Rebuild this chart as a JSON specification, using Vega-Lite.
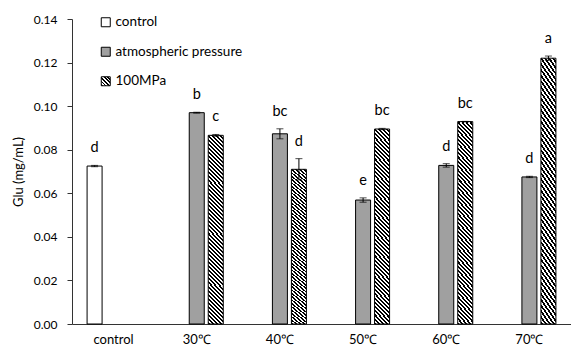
{
  "$schema": "https://vega.github.io/schema/vega-lite/v6.json",
  "autosize": "none",
  "padding": {"left": 72, "top": 19, "right": 0, "bottom": 25},
  "width": 499,
  "height": 305,
  "background": "white",
  "config": {
    "view": {"stroke": null},
    "font": "Lato",
    "axis": {"labelFont": "Lato", "titleFont": "Lato", "labelColor": "#000", "titleColor": "#000", "domainColor": "#333", "tickColor": "#333", "grid": false}
  },
  "data": {
    "values": [
      {"temp": "control", "group": "control", "value": 0.0725, "err": 0.0003, "letter": "d"},
      {"temp": "30℃", "group": "atmospheric pressure", "value": 0.0970, "err": 0.0002, "letter": "b"},
      {"temp": "30℃", "group": "100MPa", "value": 0.0866, "err": 0.0004, "letter": "c"},
      {"temp": "40℃", "group": "atmospheric pressure", "value": 0.0873, "err": 0.0023, "letter": "bc"},
      {"temp": "40℃", "group": "100MPa", "value": 0.0710, "err": 0.0049, "letter": "d"},
      {"temp": "50℃", "group": "atmospheric pressure", "value": 0.0569, "err": 0.0010, "letter": "e"},
      {"temp": "50℃", "group": "100MPa", "value": 0.0895, "err": 0.0003, "letter": "bc"},
      {"temp": "60℃", "group": "atmospheric pressure", "value": 0.0728, "err": 0.0008, "letter": "d"},
      {"temp": "60℃", "group": "100MPa", "value": 0.0929, "err": 0.0001, "letter": "bc"},
      {"temp": "70℃", "group": "atmospheric pressure", "value": 0.0675, "err": 0.0003, "letter": "d"},
      {"temp": "70℃", "group": "100MPa", "value": 0.1220, "err": 0.0010, "letter": "a"}
    ]
  },
  "transform": [
    {"calculate": "datum.value + datum.err", "as": "hi"},
    {"calculate": "datum.value - datum.err", "as": "lo"}
  ],
  "encoding": {
    "x": {
      "field": "temp", "type": "nominal", "sort": null,
      "scale": {"domain": ["control", "30℃", "40℃", "50℃", "60℃", "70℃"], "paddingInner": 0, "paddingOuter": 0},
      "axis": {"title": null, "labelAngle": 0, "ticks": false, "labelPadding": 9, "labelFontSize": 13, "domainColor": "#333"}
    },
    "xOffset": {
      "field": "group", "type": "nominal",
      "scale": {"domain": ["control", "atmospheric pressure", "100MPa"], "paddingInner": 0.21, "paddingOuter": 0.7937}
    }
  },
  "layer": [
    {
      "mark": {"type": "bar", "stroke": "#000", "strokeWidth": 1},
      "encoding": {
        "y": {
          "field": "value", "type": "quantitative",
          "scale": {"domain": [0, 0.14], "nice": false},
          "axis": {"title": "Glu (mg/mL)", "titleFontSize": 13, "titleFontWeight": "normal", "titlePadding": 8, "values": [0, 0.02, 0.04, 0.06, 0.08, 0.1, 0.12, 0.14], "format": ".2f", "labelFontSize": 12, "tickSize": 5, "labelPadding": 10}
        },
        "fill": {
          "field": "group", "type": "nominal",
          "scale": {
            "domain": ["control", "atmospheric pressure", "100MPa"],
            "range": ["#ffffff", "#a0a0a0", {"expr": "{gradient: 'linear', x1: 0, y1: 1, x2: 1, y2: 0, stops: [{offset: 0, color: '#000'}, {offset: 0.1, color: '#000'}, {offset: 0.1, color: '#fff'}, {offset: 0.2, color: '#fff'}, {offset: 0.2, color: '#000'}, {offset: 0.3, color: '#000'}, {offset: 0.3, color: '#fff'}, {offset: 0.4, color: '#fff'}, {offset: 0.4, color: '#000'}, {offset: 0.5, color: '#000'}, {offset: 0.5, color: '#fff'}, {offset: 0.6, color: '#fff'}, {offset: 0.6, color: '#000'}, {offset: 0.7, color: '#000'}, {offset: 0.7, color: '#fff'}, {offset: 0.8, color: '#fff'}, {offset: 0.8, color: '#000'}, {offset: 0.9, color: '#000'}, {offset: 0.9, color: '#fff'}, {offset: 1, color: '#fff'}]}"}]
          },
          "condition": {
            "test": "datum.group === '100MPa'",
            "value": {
              "gradient": "linear", "x1": 0, "y1": 1, "x2": 0.0871, "y2": -0.0741,
              "stops": [
                {"offset":0,"color":"#000"},{"offset":0.01,"color":"#000"},{"offset":0.01,"color":"#fff"},{"offset":0.02,"color":"#fff"},
                {"offset":0.02,"color":"#000"},{"offset":0.03,"color":"#000"},{"offset":0.03,"color":"#fff"},{"offset":0.04,"color":"#fff"},
                {"offset":0.04,"color":"#000"},{"offset":0.05,"color":"#000"},{"offset":0.05,"color":"#fff"},{"offset":0.06,"color":"#fff"},
                {"offset":0.06,"color":"#000"},{"offset":0.07,"color":"#000"},{"offset":0.07,"color":"#fff"},{"offset":0.08,"color":"#fff"},
                {"offset":0.08,"color":"#000"},{"offset":0.09,"color":"#000"},{"offset":0.09,"color":"#fff"},{"offset":0.1,"color":"#fff"},
                {"offset":0.1,"color":"#000"},{"offset":0.11,"color":"#000"},{"offset":0.11,"color":"#fff"},{"offset":0.12,"color":"#fff"},
                {"offset":0.12,"color":"#000"},{"offset":0.13,"color":"#000"},{"offset":0.13,"color":"#fff"},{"offset":0.14,"color":"#fff"},
                {"offset":0.14,"color":"#000"},{"offset":0.15,"color":"#000"},{"offset":0.15,"color":"#fff"},{"offset":0.16,"color":"#fff"},
                {"offset":0.16,"color":"#000"},{"offset":0.17,"color":"#000"},{"offset":0.17,"color":"#fff"},{"offset":0.18,"color":"#fff"},
                {"offset":0.18,"color":"#000"},{"offset":0.19,"color":"#000"},{"offset":0.19,"color":"#fff"},{"offset":0.2,"color":"#fff"},
                {"offset":0.2,"color":"#000"},{"offset":0.21,"color":"#000"},{"offset":0.21,"color":"#fff"},{"offset":0.22,"color":"#fff"},
                {"offset":0.22,"color":"#000"},{"offset":0.23,"color":"#000"},{"offset":0.23,"color":"#fff"},{"offset":0.24,"color":"#fff"},
                {"offset":0.24,"color":"#000"},{"offset":0.25,"color":"#000"},{"offset":0.25,"color":"#fff"},{"offset":0.26,"color":"#fff"},
                {"offset":0.26,"color":"#000"},{"offset":0.27,"color":"#000"},{"offset":0.27,"color":"#fff"},{"offset":0.28,"color":"#fff"},
                {"offset":0.28,"color":"#000"},{"offset":0.29,"color":"#000"},{"offset":0.29,"color":"#fff"},{"offset":0.3,"color":"#fff"},
                {"offset":0.3,"color":"#000"},{"offset":0.31,"color":"#000"},{"offset":0.31,"color":"#fff"},{"offset":0.32,"color":"#fff"},
                {"offset":0.32,"color":"#000"},{"offset":0.33,"color":"#000"},{"offset":0.33,"color":"#fff"},{"offset":0.34,"color":"#fff"},
                {"offset":0.34,"color":"#000"},{"offset":0.35,"color":"#000"},{"offset":0.35,"color":"#fff"},{"offset":0.36,"color":"#fff"},
                {"offset":0.36,"color":"#000"},{"offset":0.37,"color":"#000"},{"offset":0.37,"color":"#fff"},{"offset":0.38,"color":"#fff"},
                {"offset":0.38,"color":"#000"},{"offset":0.39,"color":"#000"},{"offset":0.39,"color":"#fff"},{"offset":0.4,"color":"#fff"},
                {"offset":0.4,"color":"#000"},{"offset":0.41,"color":"#000"},{"offset":0.41,"color":"#fff"},{"offset":0.42,"color":"#fff"},
                {"offset":0.42,"color":"#000"},{"offset":0.43,"color":"#000"},{"offset":0.43,"color":"#fff"},{"offset":0.44,"color":"#fff"},
                {"offset":0.44,"color":"#000"},{"offset":0.45,"color":"#000"},{"offset":0.45,"color":"#fff"},{"offset":0.46,"color":"#fff"},
                {"offset":0.46,"color":"#000"},{"offset":0.47,"color":"#000"},{"offset":0.47,"color":"#fff"},{"offset":0.48,"color":"#fff"},
                {"offset":0.48,"color":"#000"},{"offset":0.49,"color":"#000"},{"offset":0.49,"color":"#fff"},{"offset":0.5,"color":"#fff"},
                {"offset":0.5,"color":"#000"},{"offset":0.51,"color":"#000"},{"offset":0.51,"color":"#fff"},{"offset":0.52,"color":"#fff"},
                {"offset":0.52,"color":"#000"},{"offset":0.53,"color":"#000"},{"offset":0.53,"color":"#fff"},{"offset":0.54,"color":"#fff"},
                {"offset":0.54,"color":"#000"},{"offset":0.55,"color":"#000"},{"offset":0.55,"color":"#fff"},{"offset":0.56,"color":"#fff"},
                {"offset":0.56,"color":"#000"},{"offset":0.57,"color":"#000"},{"offset":0.57,"color":"#fff"},{"offset":0.58,"color":"#fff"},
                {"offset":0.58,"color":"#000"},{"offset":0.59,"color":"#000"},{"offset":0.59,"color":"#fff"},{"offset":0.6,"color":"#fff"},
                {"offset":0.6,"color":"#000"},{"offset":0.61,"color":"#000"},{"offset":0.61,"color":"#fff"},{"offset":0.62,"color":"#fff"},
                {"offset":0.62,"color":"#000"},{"offset":0.63,"color":"#000"},{"offset":0.63,"color":"#fff"},{"offset":0.64,"color":"#fff"},
                {"offset":0.64,"color":"#000"},{"offset":0.65,"color":"#000"},{"offset":0.65,"color":"#fff"},{"offset":0.66,"color":"#fff"},
                {"offset":0.66,"color":"#000"},{"offset":0.67,"color":"#000"},{"offset":0.67,"color":"#fff"},{"offset":0.68,"color":"#fff"},
                {"offset":0.68,"color":"#000"},{"offset":0.69,"color":"#000"},{"offset":0.69,"color":"#fff"},{"offset":0.7,"color":"#fff"},
                {"offset":0.7,"color":"#000"},{"offset":0.71,"color":"#000"},{"offset":0.71,"color":"#fff"},{"offset":0.72,"color":"#fff"},
                {"offset":0.72,"color":"#000"},{"offset":0.73,"color":"#000"},{"offset":0.73,"color":"#fff"},{"offset":0.74,"color":"#fff"},
                {"offset":0.74,"color":"#000"},{"offset":0.75,"color":"#000"},{"offset":0.75,"color":"#fff"},{"offset":0.76,"color":"#fff"},
                {"offset":0.76,"color":"#000"},{"offset":0.77,"color":"#000"},{"offset":0.77,"color":"#fff"},{"offset":0.78,"color":"#fff"},
                {"offset":0.78,"color":"#000"},{"offset":0.79,"color":"#000"},{"offset":0.79,"color":"#fff"},{"offset":0.8,"color":"#fff"},
                {"offset":0.8,"color":"#000"},{"offset":0.81,"color":"#000"},{"offset":0.81,"color":"#fff"},{"offset":0.82,"color":"#fff"},
                {"offset":0.82,"color":"#000"},{"offset":0.83,"color":"#000"},{"offset":0.83,"color":"#fff"},{"offset":0.84,"color":"#fff"},
                {"offset":0.84,"color":"#000"},{"offset":0.85,"color":"#000"},{"offset":0.85,"color":"#fff"},{"offset":0.86,"color":"#fff"},
                {"offset":0.86,"color":"#000"},{"offset":0.87,"color":"#000"},{"offset":0.87,"color":"#fff"},{"offset":0.88,"color":"#fff"},
                {"offset":0.88,"color":"#000"},{"offset":0.89,"color":"#000"},{"offset":0.89,"color":"#fff"},{"offset":0.9,"color":"#fff"},
                {"offset":0.9,"color":"#000"},{"offset":0.91,"color":"#000"},{"offset":0.91,"color":"#fff"},{"offset":0.92,"color":"#fff"},
                {"offset":0.92,"color":"#000"},{"offset":0.93,"color":"#000"},{"offset":0.93,"color":"#fff"},{"offset":0.94,"color":"#fff"},
                {"offset":0.94,"color":"#000"},{"offset":0.95,"color":"#000"},{"offset":0.95,"color":"#fff"},{"offset":0.96,"color":"#fff"},
                {"offset":0.96,"color":"#000"},{"offset":0.97,"color":"#000"},{"offset":0.97,"color":"#fff"},{"offset":0.98,"color":"#fff"},
                {"offset":0.98,"color":"#000"},{"offset":0.99,"color":"#000"},{"offset":0.99,"color":"#fff"},{"offset":1,"color":"#fff"}
              ]
            }
          },
          "legend": {
            "title": null,
            "orient": "none",
            "legendX": 27,
            "legendY": -3.5,
            "symbolType": "square",
            "symbolSize": 81,
            "symbolStrokeColor": "#000",
            "symbolStrokeWidth": 1,
            "labelFont": "Lato",
            "labelFontSize": 13.5,
            "labelColor": "#000",
            "labelOffset": 3,
            "rowPadding": 14.5,
            "padding": 0
          }
        }
      }
    },
    {
      "mark": {"type": "rule", "color": "#000", "strokeWidth": 1},
      "encoding": {
        "y": {"field": "lo", "type": "quantitative"},
        "y2": {"field": "hi"}
      }
    },
    {
      "mark": {"type": "tick", "color": "#000", "size": 7, "thickness": 1},
      "encoding": {"y": {"field": "hi", "type": "quantitative"}}
    },
    {
      "mark": {"type": "tick", "color": "#000", "size": 7, "thickness": 1},
      "encoding": {"y": {"field": "lo", "type": "quantitative"}}
    },
    {
      "mark": {"type": "text", "font": "Lato", "fontSize": 14.5, "color": "#000", "baseline": "alphabetic", "dy": -13},
      "encoding": {
        "y": {"field": "hi", "type": "quantitative"},
        "text": {"field": "letter"}
      }
    }
  ]
}
